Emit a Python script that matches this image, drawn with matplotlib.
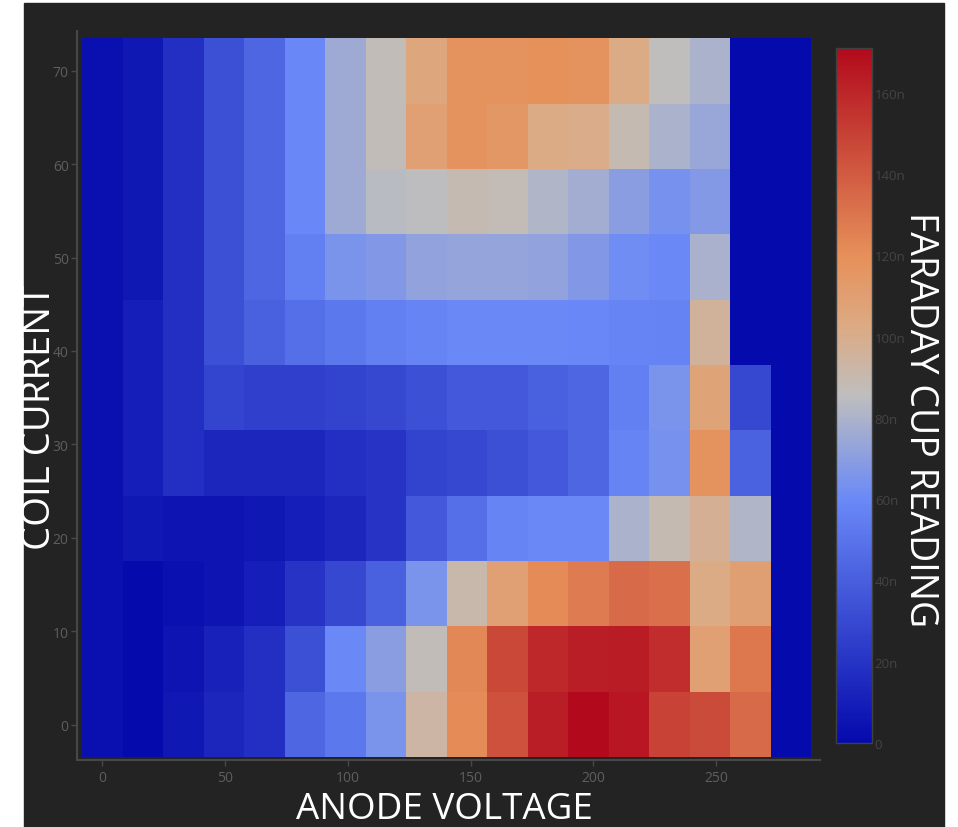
import numpy as np
import matplotlib
matplotlib.use('Agg')
import matplotlib.pyplot as plt
from matplotlib.colors import LinearSegmentedColormap
from matplotlib.patches import Rectangle
from matplotlib.ticker import FuncFormatter

plt.rcParams['font.family'] = ['Open Sans', 'DejaVu Sans']

# anode voltage (cell centres) and coil current rows
anode_voltage = [0, 16.5, 33, 49.5, 66, 82.5, 99, 115.5, 132, 148.5,
                 165, 181.5, 198, 214.5, 231, 247.5, 264, 280.5]
coil_current = [0, 7, 14, 21, 28, 35, 42, 49, 56, 63, 70]

# faraday cup reading in nA, one list per coil current row (bottom to top)
row_0 = [3, 0, 7, 14, 18, 44, 52, 65, 93, 122, 144, 163, 171, 166, 149, 146, 134, 0]
row_7 = [3, 0, 5, 12, 18, 33, 60, 70, 87, 123, 147, 159, 163, 164, 157, 109, 129, 0]
row_14 = [3, 0, 3, 5, 10, 20, 29, 41, 65, 91, 109, 122, 128, 134, 132, 102, 110, 0]
row_21 = [3, 7, 5, 5, 7, 10, 14, 20, 37, 48, 58, 60, 60, 80, 89, 98, 81, 0]
row_28 = [3, 10, 18, 14, 14, 14, 18, 20, 27, 29, 33, 37, 44, 58, 64, 118, 42, 0]
row_35 = [3, 10, 18, 28, 26, 26, 27, 29, 33, 37, 37, 41, 44, 56, 65, 107, 29, 0]
row_42 = [3, 10, 18, 33, 41, 48, 52, 56, 58, 60, 60, 60, 59, 58, 57, 96, 0, 0]
row_49 = [3, 7, 18, 33, 44, 56, 65, 67, 72, 73, 73, 72, 67, 62, 60, 79, 0, 0]
row_56 = [3, 7, 18, 33, 44, 59, 76, 84, 85, 89, 88, 81, 77, 70, 64, 68, 0, 0]
row_63 = [3, 7, 18, 33, 44, 59, 76, 87, 109, 118, 115, 102, 101, 89, 80, 74, 0, 0]
row_70 = [3, 7, 18, 33, 44, 59, 76, 87, 105, 118, 118, 120, 118, 102, 86, 80, 0, 0]

reading = np.array([row_0, row_7, row_14, row_21, row_28, row_35, row_42,
                    row_49, row_56, row_63, row_70], dtype=float) * 1e-9

bg = '#232323'
cmap = LinearSegmentedColormap.from_list('rdbu_r', [
    (0.0, (5/255, 10/255, 172/255)),
    (0.35, (106/255, 137/255, 247/255)),
    (0.5, (190/255, 190/255, 190/255)),
    (0.6, (220/255, 170/255, 132/255)),
    (0.7, (230/255, 145/255, 90/255)),
    (1.0, (178/255, 10/255, 28/255)),
])

W, H = 958, 828
fig = plt.figure(figsize=(W/100, H/100), dpi=100, facecolor='white')
fig.add_artist(Rectangle((24/W, 0), 920/W, 824/H, transform=fig.transFigure,
                         color=bg, zorder=-5))

ax = fig.add_axes([77/W, 1 - 761/H, (820-77)/W, (761-31.7)/H])
ax.set_facecolor(bg)
mesh = ax.pcolormesh(anode_voltage, coil_current, reading, cmap=cmap,
                     shading='nearest', vmin=0, vmax=reading.max())
ax.set_xlim(-10.3, 292.3)
ax.set_ylim(-3.8, 74.3)
ax.set_xticks([0, 50, 100, 150, 200, 250])
ax.set_yticks([0, 10, 20, 30, 40, 50, 60, 70])
for s in ['top', 'right']:
    ax.spines[s].set_visible(False)
for s in ['left', 'bottom']:
    ax.spines[s].set_color('#484848')
    ax.spines[s].set_linewidth(1.5)
ax.tick_params(axis='both', colors='#484848', labelcolor='#5e5e5e',
               length=4, width=1, labelsize=10)
ax.tick_params(axis='x', pad=3.5)
ax.tick_params(axis='y', pad=2)

cax = fig.add_axes([836/W, 1 - 744/H, 36/W, (744-49.3)/H])
cb = fig.colorbar(mesh, cax=cax)
cb.set_ticks(np.arange(0, 161, 20) * 1e-9)
cb.ax.yaxis.set_major_formatter(FuncFormatter(
    lambda v, p: '0' if abs(v) < 1e-12 else '%dn' % round(v * 1e9)))
cb.ax.tick_params(length=0, pad=2, labelsize=9.5, labelcolor='#444444')
cb.outline.set_edgecolor('#404040')
cb.outline.set_linewidth(1)

# axis titles sit over the tick labels, as in the original
fig.text(444/W, 1 - 810/H, 'ANODE VOLTAGE', color='white', fontsize=26.5,
         ha='center', va='center')
fig.text(40/W, 1 - 417/H, 'COIL CURRENT', color='white', fontsize=27.5,
         ha='center', va='center', rotation=90)
fig.text(920/W, 1 - 420/H, 'FARADAY CUP READING', color='white', fontsize=27,
         ha='center', va='center', rotation=-90)

fig.savefig('out.png', dpi=100, facecolor=fig.get_facecolor())
